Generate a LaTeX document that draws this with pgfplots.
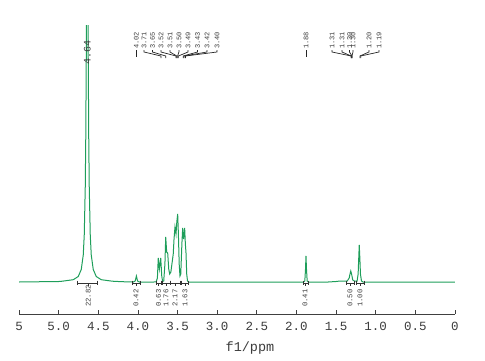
\documentclass[border=0pt]{standalone}
\usepackage{fontspec}
\setmainfont{Liberation Mono}
\usepackage{pgfplots}
\pgfplotsset{compat=1.18}
\definecolor{spec}{RGB}{30,158,90}
\definecolor{lab}{RGB}{60,60,60}
\newcommand{\toplab}[2]{\node[rotate=90,anchor=west,inner sep=0pt,font=\fontsize{7}{8}\selectfont,text=lab] at (axis cs:#1,265) {#2};}
\newcommand{\lead}[2]{\draw[black!85,line width=0.7pt] (axis cs:#1,264) -- (axis cs:#1,262) -- (axis cs:#2,258) -- (axis cs:#2,256);}
\newcommand{\integ}[4]{%
 \draw[black!80,line width=0.6pt] (axis cs:#1,33.5) -- (axis cs:#1,29) (axis cs:#1,31) -- (axis cs:#2,31) (axis cs:#2,33.5) -- (axis cs:#2,29) (axis cs:#3,31) -- (axis cs:#3,28);
 \node[rotate=90,anchor=west,inner sep=0pt,font=\fontsize{7.2}{8}\selectfont,text=lab] at (axis cs:#3,7) {#4};}
\begin{document}
\begin{tikzpicture}
\begin{axis}[
 scale only axis, width=435.9pt, height=289pt,
 x dir=reverse, xmin=0, xmax=5.5, ymin=0, ymax=289,
 axis x line=bottom, axis y line=none,
 x axis line style={-, line width=0.8pt, black!75},
 xtick={0,0.5,1,1.5,2,2.5,3,3.5,4,4.5,5,5.5},
 xticklabels={0,0.5,1.0,1.5,2.0,2.5,3.0,3.5,4.0,4.5,5.0,5},
 tick align=inside, major tick length=4pt,
 tick style={black!75, line width=0.8pt},
 xticklabel style={font=\fontsize{12.5}{13}\selectfont, text=lab, inner sep=0pt, yshift=-8pt},
 clip mode=individual,
]
\addplot[spec, line width=1pt] coordinates {
(5.5,32) (5.0,32.5) (4.955,32.8) (4.8166,34.3) (4.7536,37.5) (4.7157,44.5) (4.6905,59) (4.6779,79)
(4.6652,127) (4.6589,175) (4.6526,254) (4.6463,365) (4.64,432) (4.6337,365) (4.6274,254) (4.6211,175)
(4.6148,127) (4.6021,79) (4.5895,59) (4.5643,44.5) (4.5264,37.5) (4.4634,34.3) (4.3234,32.8) (4.2,32.3)
(4.06,32) (4.035,33) (4.02,38) (4.005,33) (3.98,32) (3.8,32) (3.77,32.3)
(3.755,36) (3.744,56) (3.73,45) (3.713,56) (3.70,38) (3.69,33)
(3.675,33) (3.66,50) (3.65,77) (3.638,62) (3.625,61) (3.612,45) (3.60,40)
(3.585,42) (3.57,51) (3.555,60) (3.545,75) (3.533,87) (3.52,80) (3.51,92) (3.499,100) (3.49,80) (3.48,50) (3.47,38)
(3.46,40) (3.446,70) (3.436,86) (3.425,75) (3.411,86) (3.402,70) (3.394,61) (3.385,40) (3.375,33) (3.36,32)
(3.2,32) (2.0,32) (1.91,32) (1.895,33) (1.886,45) (1.88,58) (1.874,45) (1.865,33) (1.85,32)
(1.6,32) (1.5,32.5) (1.45,33) (1.40,32.8) (1.36,33) (1.335,36) (1.322,41) (1.315,43) (1.305,40) (1.29,34) (1.27,33)
(1.235,33) (1.222,40) (1.215,55) (1.208,69) (1.2,55) (1.193,40) (1.18,33) (1.16,32) (1.0,32) (0,32)
};
% peak labels
\node[rotate=90,anchor=west,inner sep=0pt,font=\fontsize{10}{11}\selectfont,text=lab] at (axis cs:4.64,249) {4.64};
\toplab{4.02}{4.02}
\draw[black!85,line width=0.7pt] (axis cs:4.02,264) -- (axis cs:4.02,257);
\toplab{3.924}{3.71} \lead{3.924}{3.71}
\toplab{3.817}{3.65} \lead{3.817}{3.65}
\toplab{3.710}{3.52} \lead{3.710}{3.52}
\toplab{3.596}{3.51} \lead{3.596}{3.51}
\toplab{3.483}{3.50} \lead{3.483}{3.50}
\toplab{3.369}{3.49} \lead{3.369}{3.49}
\toplab{3.249}{3.43} \lead{3.249}{3.43}
\toplab{3.129}{3.42} \lead{3.129}{3.42}
\toplab{3.003}{3.40} \lead{3.003}{3.40}
\toplab{1.88}{1.88}
\draw[black!85,line width=0.7pt] (axis cs:1.88,264) -- (axis cs:1.88,257);
\toplab{1.552}{1.31} \lead{1.552}{1.31}
\toplab{1.426}{1.31} \lead{1.426}{1.31}
\toplab{1.331}{1.30} \lead{1.331}{1.30}
\toplab{1.287}{1.30} \lead{1.287}{1.30}
\toplab{1.085}{1.20} \lead{1.085}{1.20}
\toplab{0.959}{1.19} \lead{0.959}{1.19}
% integrals
\integ{4.770}{4.517}{4.627}{22.82}
\integ{4.076}{3.975}{4.025}{0.42}
\integ{3.773}{3.703}{3.741}{0.63}
\integ{3.691}{3.596}{3.647}{1.76}
\integ{3.590}{3.464}{3.533}{2.17}
\integ{3.457}{3.363}{3.407}{1.63}
\integ{1.918}{1.855}{1.893}{0.41}
\integ{1.375}{1.274}{1.325}{0.50}
\integ{1.249}{1.148}{1.199}{1.00}
\node[font=\fontsize{13.5}{14}\selectfont,text=lab] at (axis cs:2.587,-34) {f1/ppm};
\end{axis}
\pgfresetboundingbox
\path (-19.1pt,-46pt) rectangle (465.9pt,314pt);
\end{tikzpicture}
\end{document}
